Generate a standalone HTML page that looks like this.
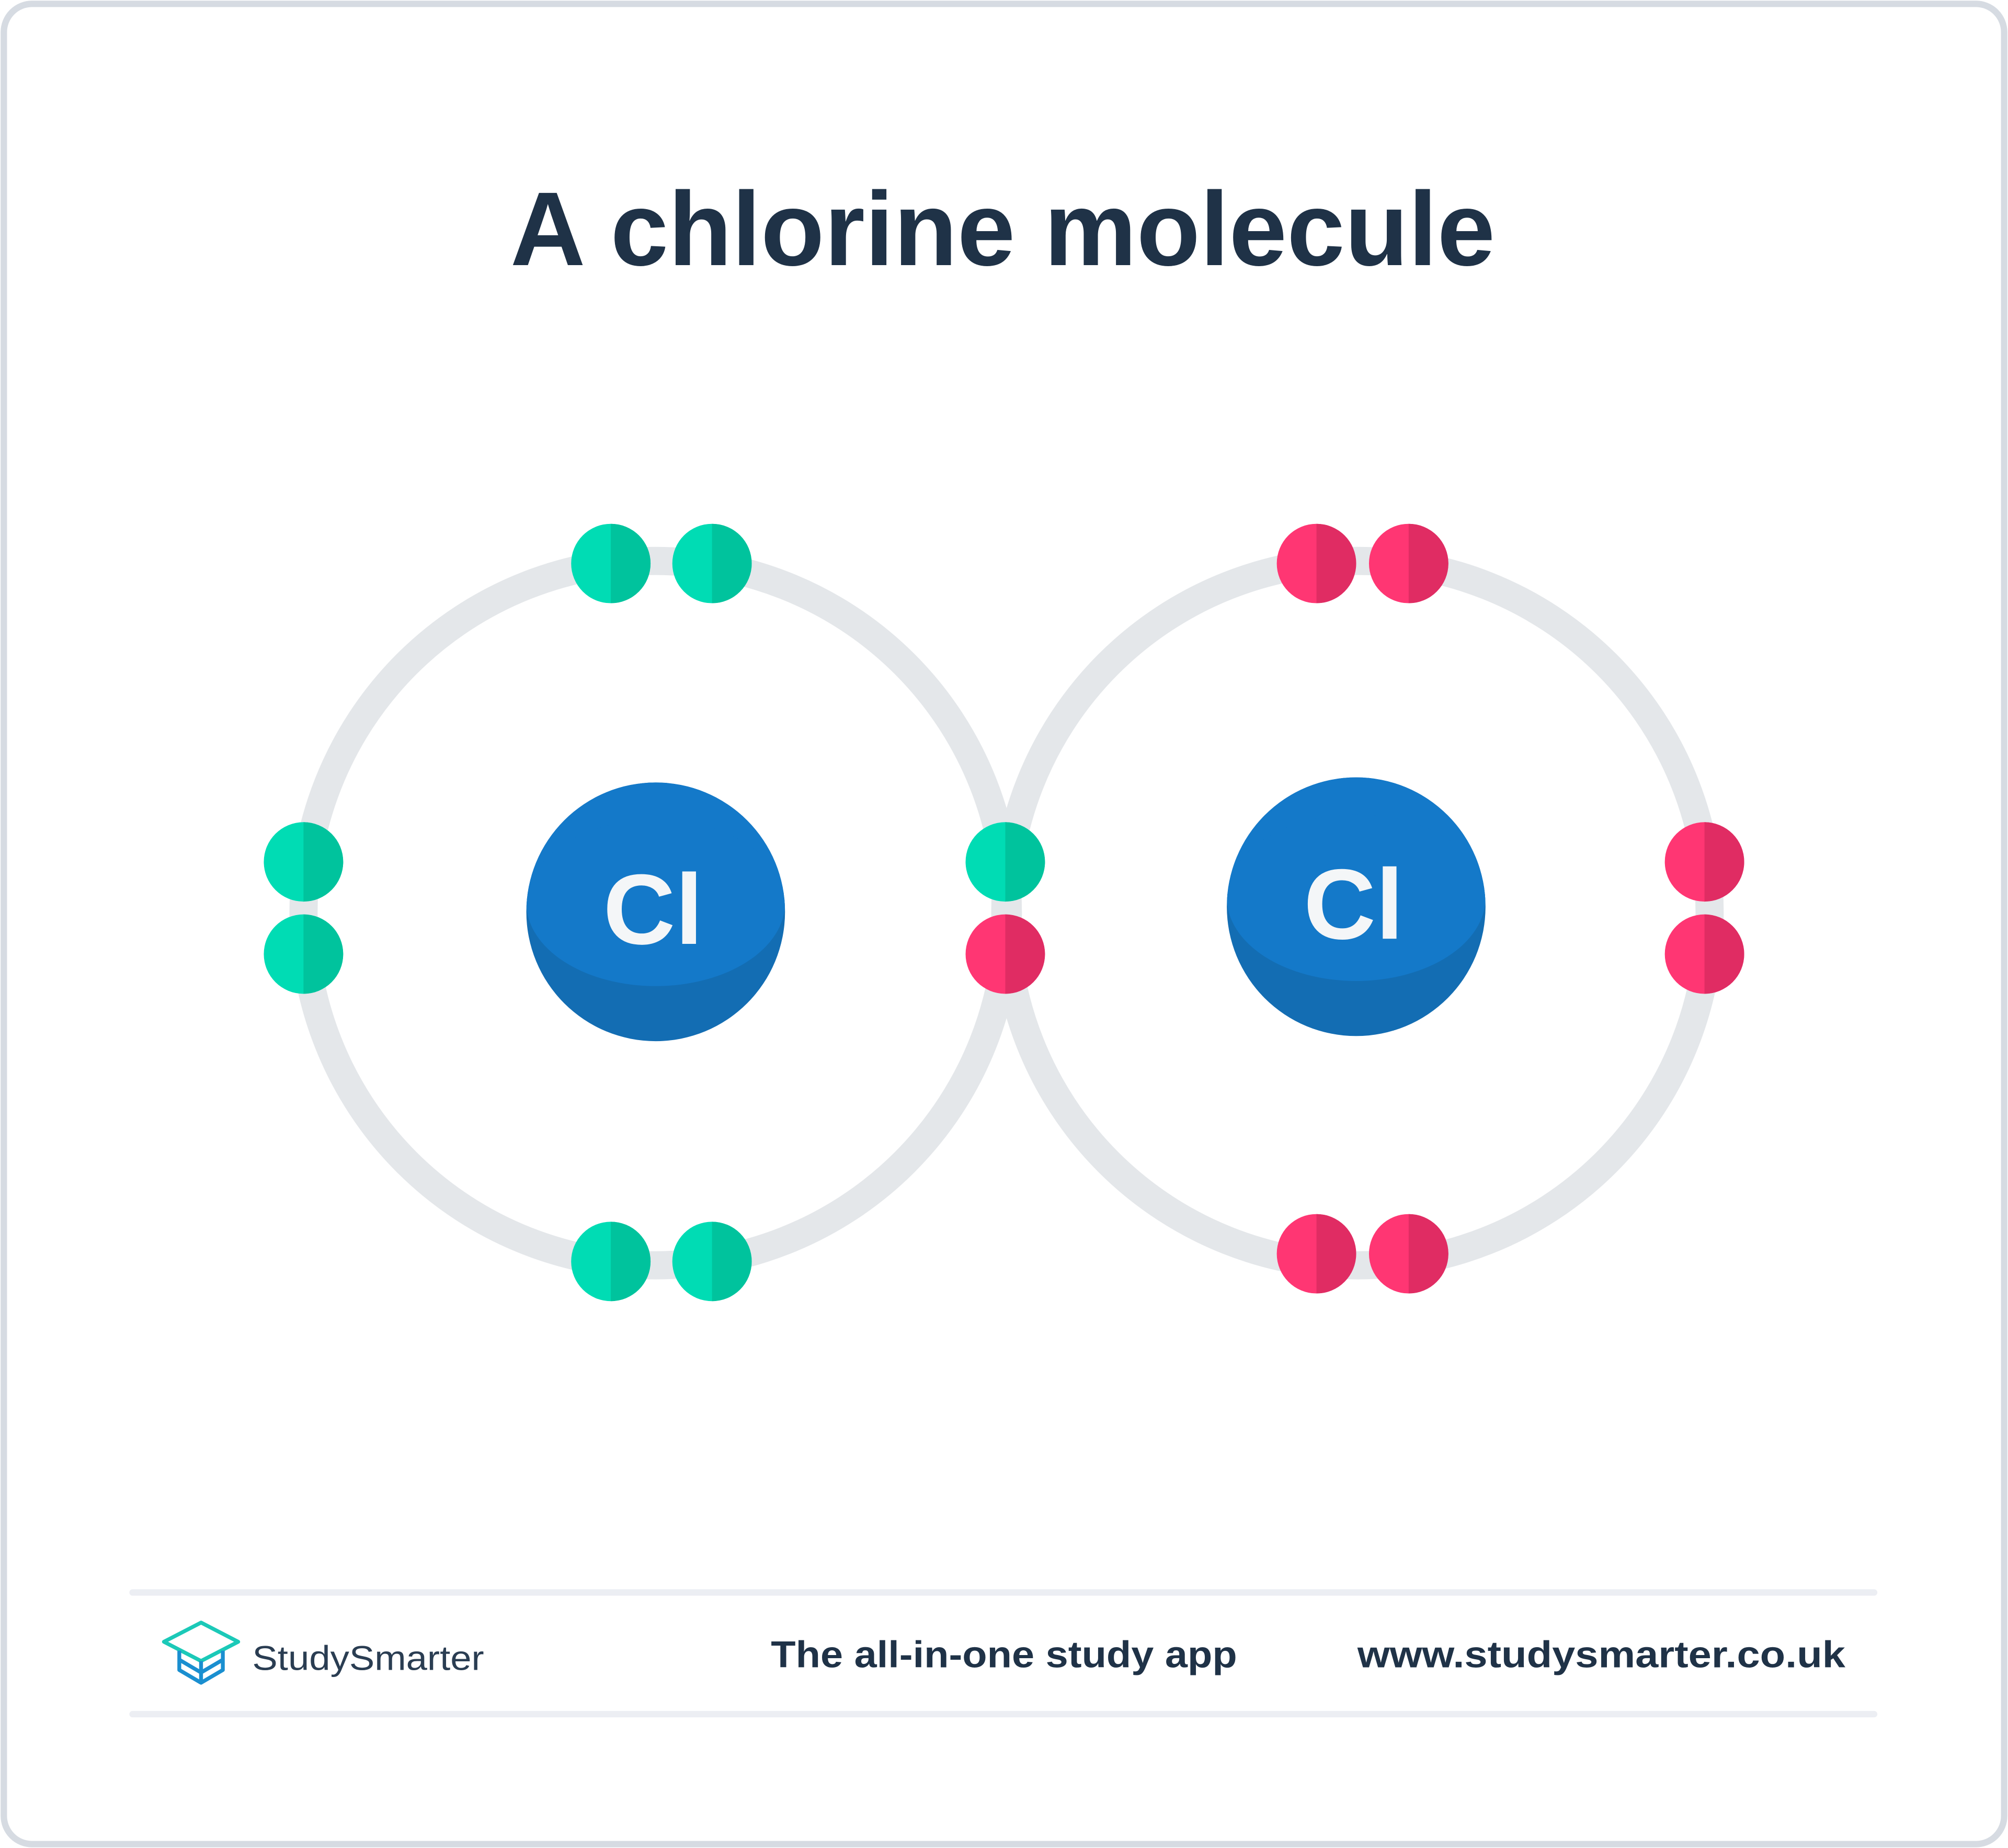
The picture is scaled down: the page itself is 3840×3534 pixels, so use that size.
<!DOCTYPE html>
<html><head><meta charset="utf-8"><style>
html,body{margin:0;padding:0;background:#fff;}
svg{display:block;}
</style></head><body>
<svg width="3840" height="3534" viewBox="0 0 1568 1443" xmlns="http://www.w3.org/2000/svg">
<defs>
<clipPath id="cl1"><circle cx="512" cy="712" r="101"/></clipPath>
<clipPath id="cl2"><circle cx="1059" cy="708" r="101"/></clipPath>
<g id="eg">
<circle cx="0" cy="0" r="31" fill="#00dcb4"/>
<path d="M0,-31 A31,31 0 0 1 0,31 Z" fill="#00c39d"/>
</g>
<g id="ep">
<circle cx="0" cy="0" r="31" fill="#ff3673"/>
<path d="M0,-31 A31,31 0 0 1 0,31 Z" fill="#e02c63"/>
</g>
</defs>
<rect x="3" y="3" width="1562" height="1437" rx="22" fill="#fff" stroke="#d6dbe2" stroke-width="5"/>
<text x="783" y="207" text-anchor="middle" font-family="Liberation Sans, sans-serif" font-weight="bold" font-size="82" fill="#1f3247" textLength="769" lengthAdjust="spacingAndGlyphs">A chlorine molecule</text>

<circle cx="512" cy="713" r="275" fill="none" stroke="#e4e7ea" stroke-width="22"/>
<circle cx="1060" cy="713" r="275" fill="none" stroke="#e4e7ea" stroke-width="22"/>

<circle cx="512" cy="712" r="101" fill="#136db3"/>
<g clip-path="url(#cl1)" fill="#1479c9">
<rect x="400" y="600" width="230" height="106"/>
<ellipse cx="512" cy="705" rx="101" ry="65"/>
</g>
<circle cx="1059" cy="708" r="101" fill="#136db3"/>
<g clip-path="url(#cl2)" fill="#1479c9">
<rect x="950" y="600" width="230" height="102"/>
<ellipse cx="1059" cy="701" rx="101" ry="65"/>
</g>
<text x="510" y="737" text-anchor="middle" font-family="Liberation Sans, sans-serif" font-weight="bold" font-size="78" fill="#f4f6f8">Cl</text>
<text x="1057" y="733" text-anchor="middle" font-family="Liberation Sans, sans-serif" font-weight="bold" font-size="78" fill="#f4f6f8">Cl</text>

<use href="#eg" x="477" y="440"/>
<use href="#eg" x="556" y="440"/>
<use href="#eg" x="237" y="673"/>
<use href="#eg" x="237" y="745"/>
<use href="#eg" x="477" y="985"/>
<use href="#eg" x="556" y="985"/>
<use href="#eg" x="785" y="673"/>
<use href="#ep" x="785" y="745"/>
<use href="#ep" x="1028" y="440"/>
<use href="#ep" x="1100" y="440"/>
<use href="#ep" x="1331" y="673"/>
<use href="#ep" x="1331" y="745"/>
<use href="#ep" x="1028" y="979"/>
<use href="#ep" x="1100" y="979"/>

<rect x="101" y="1241" width="1365" height="5" rx="2.5" fill="#eceef3"/>
<rect x="101" y="1336" width="1365" height="5" rx="2.5" fill="#eceef3"/>

<g fill="none" stroke-width="3" stroke-linejoin="round">
<path d="M128,1282 L157,1267 L186,1282 L157,1297 Z" stroke="#1bc9b8"/>
<path d="M140,1289 L140,1304 L157,1314 L174,1304 L174,1289" stroke="#1a8fd0"/>
<path d="M140,1296 L157,1306 L174,1296 M157,1297 L157,1314" stroke="#1a8fd0"/>
</g>
<text x="197" y="1304" font-family="Liberation Sans, sans-serif" font-size="27" fill="#2a3d52" textLength="181" lengthAdjust="spacingAndGlyphs">StudySmarter</text>
<text x="784" y="1302" text-anchor="middle" font-family="Liberation Sans, sans-serif" font-weight="bold" font-size="29" fill="#1f3247" textLength="364" lengthAdjust="spacingAndGlyphs">The all-in-one study app</text>
<text x="1250.5" y="1302" text-anchor="middle" font-family="Liberation Sans, sans-serif" font-weight="bold" font-size="29" fill="#1f3247" textLength="381" lengthAdjust="spacingAndGlyphs">www.studysmarter.co.uk</text>
</svg>
</body></html>
